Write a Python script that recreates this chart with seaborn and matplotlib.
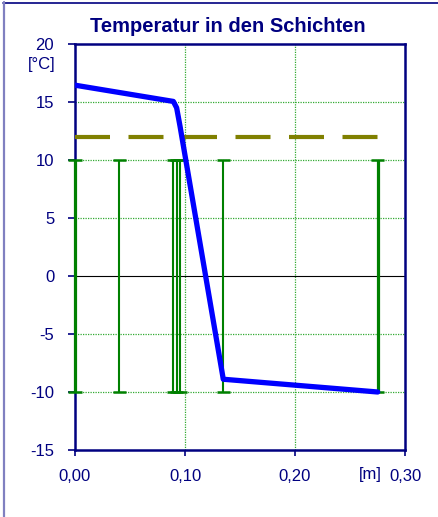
import matplotlib
matplotlib.use("Agg")
import matplotlib.pyplot as plt
import seaborn as sns
import pandas as pd
from matplotlib.lines import Line2D

sns.set_theme(style="white")
plt.rcParams['font.family'] = ['Liberation Sans', 'DejaVu Sans']

# Data
layer_x = [0.0, 0.0403, 0.0894, 0.0924, 0.0955, 0.1348, 0.2752]
layer_top = 10
layer_bottom = -10
temp_x = [0.0, 0.0894, 0.0924, 0.0955, 0.1348, 0.2752]
temp_y = [16.45, 15.05, 14.5, 12.9, -8.9, -10.0]
dew_x = [0.0, 0.2752]
dew_y = [12.0, 12.0]
x_ticks = [0.0, 0.1, 0.2, 0.3]
x_labels = ["0,00", "0,10", "0,20", "0,30"]
y_ticks = [-15, -10, -5, 0, 5, 10, 15, 20]

navy = "#000080"
fig = plt.figure(figsize=(4.39, 5.17), dpi=100)
ax = fig.add_axes([75/439, 1-450/517, 330/439, 406/517])

# grid
for gx in [0.1, 0.2]:
    ax.axvline(gx, color="#33aa33", lw=0.9, ls=(0, (1, 1)), zorder=0)
for gy in [-10, -5, 5, 10, 15]:
    ax.axhline(gy, color="#33aa33", lw=0.9, ls=(0, (1, 1)), zorder=0)
ax.axhline(0, color="black", lw=0.8, zorder=1)

# layer boundaries
for i, lx in enumerate(layer_x):
    lw = 2.3 if i in (0, len(layer_x) - 1) else 1.5
    ax.vlines(lx, layer_bottom, layer_top, color="#008000", lw=lw, zorder=5, clip_on=False)
    ax.hlines([layer_bottom, layer_top], lx - 0.006, lx + 0.006, color="#008000", lw=1.8,
              zorder=5, clip_on=False)

# dew point dashed line
sns.lineplot(x=dew_x, y=dew_y, ax=ax, color="#808000", lw=3.0, zorder=3)
dl = ax.lines[-1]
dl.set_linestyle((0, (8.4, 4.44)))
dl.set_dash_capstyle("butt")

# temperature line
df = pd.DataFrame({"x": temp_x, "T": temp_y})
sns.lineplot(data=df, x="x", y="T", ax=ax, color="#0000FF", lw=3.8, sort=False, zorder=6)

ax.set_xlim(0, 0.3)
ax.set_ylim(-15, 20)
ax.set_xticks(x_ticks)
ax.set_xticklabels(x_labels)
ax.set_yticks(y_ticks)
ax.set_yticklabels([str(t) for t in y_ticks])
ax.set_xlabel("")
ax.set_ylabel("")
for s in ax.spines.values():
    s.set_color(navy)
    s.set_linewidth(1.8)
ax.tick_params(axis="both", colors=navy, labelcolor=navy, labelsize=12,
               direction="out", length=5, width=1.2, left=True, bottom=True)
ax.tick_params(axis="x", pad=10, length=4)
ax.tick_params(axis="y", pad=10)

fig.text(42/439, 1-65/517, "[°C]", ha="center", va="center", color=navy, fontsize=12)
fig.text(370/439, 1-475/517, "[m]", ha="center", va="center", color=navy, fontsize=12)
fig.text(228/439, 1-27/517, "Temperatur in den Schichten", ha="center", va="center",
         color=navy, fontsize=14.5, fontweight="bold")

# figure frame
fig.add_artist(Line2D([3/439, 1], [1-2.5/517, 1-2.5/517], transform=fig.transFigure, color=navy, lw=1.2))
fig.add_artist(Line2D([4/439, 4/439], [0, 1-2/517], transform=fig.transFigure, color="#8080C0", lw=1.6))

fig.savefig("out.png", dpi=100)
